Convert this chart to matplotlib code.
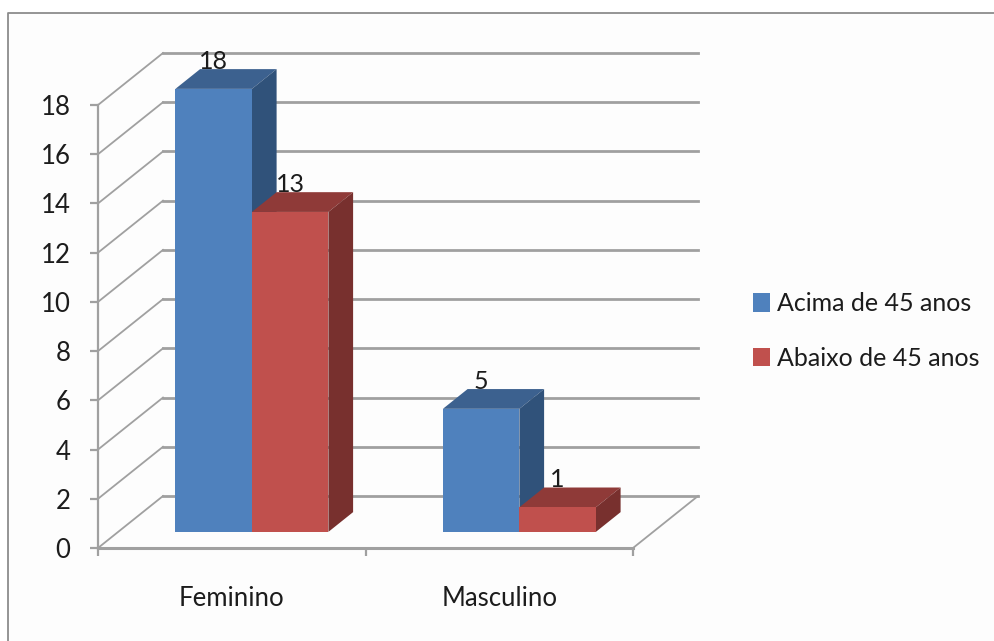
import matplotlib
matplotlib.use("Agg")
import matplotlib.pyplot as plt
from matplotlib.lines import Line2D
from matplotlib.patches import Patch

categories = ["Feminino", "Masculino"]
series_names = ["Acima de 45 anos", "Abaixo de 45 anos"]
above_45 = [18, 5]
below_45 = [13, 1]
y_ticks = list(range(0, 20, 2))

FRONT = ["#4f81bd", "#c0504d"]
TOP = ["#3c618f", "#8f3a38"]
SIDE = ["#30527a", "#78302e"]
GRID = "#a0a0a0"
TEXT = "#1c1c1c"

W, H = 994, 641
plt.rcParams["font.family"] = ["Lato", "DejaVu Sans"]

fig = plt.figure(figsize=(W / 100, H / 100), dpi=100, facecolor="white")

# Outer frame of the chart area (top and left edges only)
fig.add_artist(plt.Rectangle((8 / W, 0), 1, 1 - 13 / H, transform=fig.transFigure,
                             facecolor="#fdfdfd", edgecolor="none", zorder=-2))
fig.add_artist(Line2D([8 / W, 8 / W, 1], [0, 1 - 13 / H, 1 - 13 / H], color="#8c8c8c", lw=1.3,
                      zorder=-1))

# Axes rectangle is the front plane of the oblique box
ax = fig.add_axes([98 / W, 1 - 548 / H, 535 / W, 443 / H])
ax.set_xlim(0, 2)
ax.set_ylim(0, 18)
ax.patch.set_alpha(0)

# Depth of the box expressed in data units
DX = 65 / 267.5
DY = 52 / (443 / 18)


def project(x, y, d):
    """Oblique projection of a point at fractional depth d."""
    return x + d * DX, y + d * DY


# Back wall gridlines and the diagonal lines on the side wall
for v in y_ticks:
    x0, y0 = project(0, v, 0)
    x1, y1 = project(0, v, 1)
    x2, y2 = project(2, v, 1)
    ax.plot([x0, x1], [y0, y1], color=GRID, lw=1.3, clip_on=False, zorder=1)
    ax.plot([x1, x2], [y1, y2], color=GRID, lw=2.0, clip_on=False, zorder=1)

# Right edge of the floor
x0, y0 = project(2, 0, 0)
x1, y1 = project(2, 0, 1)
ax.plot([x0, x1], [y0, y1], color=GRID, lw=1.3, clip_on=False, zorder=1)

# Bars
BAR_W = 76.5 / 267.5
D_FRONT = 0.31
D_BACK = 0.69


def draw_bar(left, value, idx, z):
    r = left + BAR_W
    fx, fy = project(left, 0, D_FRONT)
    ax.bar(fx, value, BAR_W, bottom=fy, align="edge", color=FRONT[idx], lw=0, zorder=z + 0.2,
           clip_on=False)
    top = [project(left, value, D_FRONT), project(r, value, D_FRONT),
           project(r, value, D_BACK), project(left, value, D_BACK)]
    side = [project(r, 0, D_FRONT), project(r, value, D_FRONT),
            project(r, value, D_BACK), project(r, 0, D_BACK)]
    ax.fill(*zip(*top), color=TOP[idx], lw=0, zorder=z, clip_on=False)
    ax.fill(*zip(*side), color=SIDE[idx], lw=0, zorder=z, clip_on=False)
    ax.annotate(str(value), (fx + BAR_W / 2, fy + value), xytext=(0, 20),
                textcoords="offset points", ha="center", va="center",
                fontsize=18, color=TEXT, zorder=10, annotation_clip=False)


for c in range(len(categories)):
    start = c + (1 - 2 * BAR_W) / 2
    draw_bar(start, above_45[c], 0, 3 + c)
    draw_bar(start + BAR_W, below_45[c], 1, 3.5 + c)

ax.set_xlim(0, 2)
ax.set_ylim(0, 18)

# Axes, ticks and labels
for name in ("top", "right"):
    ax.spines[name].set_visible(False)
for name in ("left", "bottom"):
    ax.spines[name].set_color(GRID)
ax.spines["left"].set_linewidth(1.6)
ax.spines["bottom"].set_linewidth(2.2)

ax.set_yticks(y_ticks)
ax.set_xticks([0, 1, 2])
ax.set_xticklabels([])
ax.set_xticks([0.5, 1.5], labels=categories, minor=True)
ax.tick_params(axis="y", length=5.8, width=1.6, color=GRID, labelsize=18.5, pad=14, labelcolor=TEXT)
ax.tick_params(axis="x", which="major", length=5.8, width=1.6, color=GRID)
ax.tick_params(axis="x", which="minor", length=0, labelsize=18.5, pad=27, labelcolor=TEXT)

ax.legend(handles=[Patch(facecolor=FRONT[i], edgecolor="none", label=series_names[i]) for i in range(2)],
          loc="center left", bbox_to_anchor=(745 / W, 1 - 331 / H), bbox_transform=fig.transFigure,
          frameon=False, fontsize=18, labelspacing=1.27, handlelength=0.68, handleheight=0.75,
          handletextpad=0.3, borderpad=0, borderaxespad=0.3, labelcolor=TEXT)

fig.savefig("out.png", dpi=100)
